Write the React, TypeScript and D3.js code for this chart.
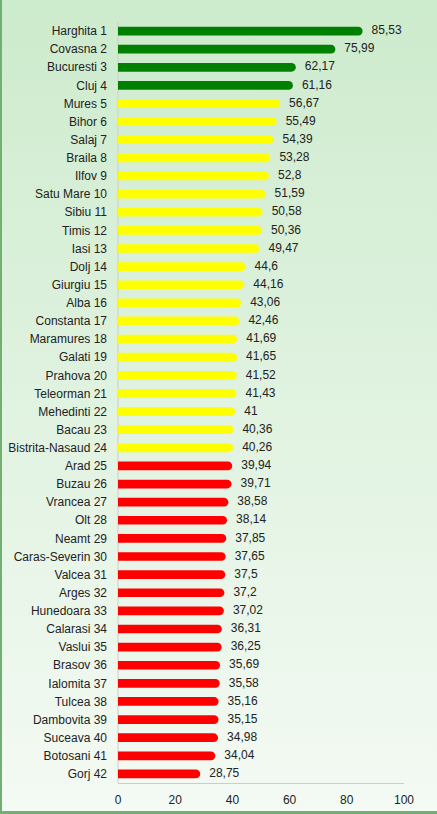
import React from "react";
import * as d3 from "d3";

const counties = [
  "Harghita 1", "Covasna 2", "Bucuresti 3", "Cluj 4", "Mures 5", "Bihor 6", "Salaj 7", "Braila 8",
  "Ilfov 9", "Satu Mare 10", "Sibiu 11", "Timis 12", "Iasi 13", "Dolj 14", "Giurgiu 15", "Alba 16",
  "Constanta 17", "Maramures 18", "Galati 19", "Prahova 20", "Teleorman 21", "Mehedinti 22", "Bacau 23",
  "Bistrita-Nasaud 24", "Arad 25", "Buzau 26", "Vrancea 27", "Olt 28", "Neamt 29", "Caras-Severin 30",
  "Valcea 31", "Arges 32", "Hunedoara 33", "Calarasi 34", "Vaslui 35", "Brasov 36", "Ialomita 37",
  "Tulcea 38", "Dambovita 39", "Suceava 40", "Botosani 41", "Gorj 42",
];

const values = [
  85.53, 75.99, 62.17, 61.16, 56.67, 55.49, 54.39, 53.28, 52.8, 51.59, 50.58, 50.36, 49.47, 44.6,
  44.16, 43.06, 42.46, 41.69, 41.65, 41.52, 41.43, 41, 40.36, 40.26, 39.94, 39.71, 38.58, 38.14,
  37.85, 37.65, 37.5, 37.2, 37.02, 36.31, 36.25, 35.69, 35.58, 35.16, 35.15, 34.98, 34.04, 28.75,
];

const xTicks = [0, 20, 40, 60, 80, 100];
const tierThresholds = [40, 60];
const tierColors = ["#ff0000", "#ffff00", "#008000"];

const W = 437;
const H = 814;
const left = 118;
const right = 404;
const top = 22;
const bottom = 783;

export default function App() {
  const x = d3.scaleLinear().domain([0, 100]).range([left, right]);
  const y = d3.scaleBand<string>().domain(counties).range([top, bottom]).paddingInner(0.52).paddingOuter(0.26);
  const color = d3.scaleThreshold<number, string>().domain(tierThresholds).range(tierColors);
  const font = "'Liberation Sans', Arial, sans-serif";
  const bh = y.bandwidth();
  const r = bh / 2;

  return (
    <svg width={W} height={H} style={{ position: "absolute", left: 0, top: 0, display: "block" }} fontFamily={font}>
      <defs>
        <linearGradient id="bg" x1="0" y1="0" x2="0" y2="1">
          <stop offset="0" stopColor="#cdebcd" />
          <stop offset="1" stopColor="#f4faf4" />
        </linearGradient>
      </defs>
      <rect x={0} y={0} width={W} height={H} fill="url(#bg)" />
      <rect x={0} y={0} width={2} height={H} fill="#72b072" />
      <rect x={0} y={H - 3} width={W} height={3} fill="#72b072" />

      <line x1={left} x2={left} y1={top} y2={bottom} stroke="#cccccc" strokeWidth={1} />
      <line x1={left} x2={right} y1={bottom + 0.5} y2={bottom + 0.5} stroke="#cccccc" strokeWidth={1} />

      {counties.map((c, i) => {
        const v = values[i];
        const x0 = x(0);
        const w = x(v) - x0;
        const y0 = y(c)!;
        const d = `M${x0},${y0} h${w - r} a${r},${r} 0 0 1 0,${bh} h${-(w - r)} Z`;
        return (
          <g key={c}>
            <text x={107} y={y0 + bh / 2} dy="0.35em" textAnchor="end" fontSize={12} fill="#222">
              {c}
            </text>
            <path d={d} fill={color(v)} />
            <text x={x(v) + 9} y={y0 + bh / 2 - 1} dy="0.35em" fontSize={12} fill="#222">
              {String(v).replace(".", ",")}
            </text>
          </g>
        );
      })}

      {xTicks.map((t) => (
        <text key={t} x={x(t)} y={800} dy="0.35em" textAnchor="middle" fontSize={12} fill="#222">
          {t}
        </text>
      ))}
    </svg>
  );
}
